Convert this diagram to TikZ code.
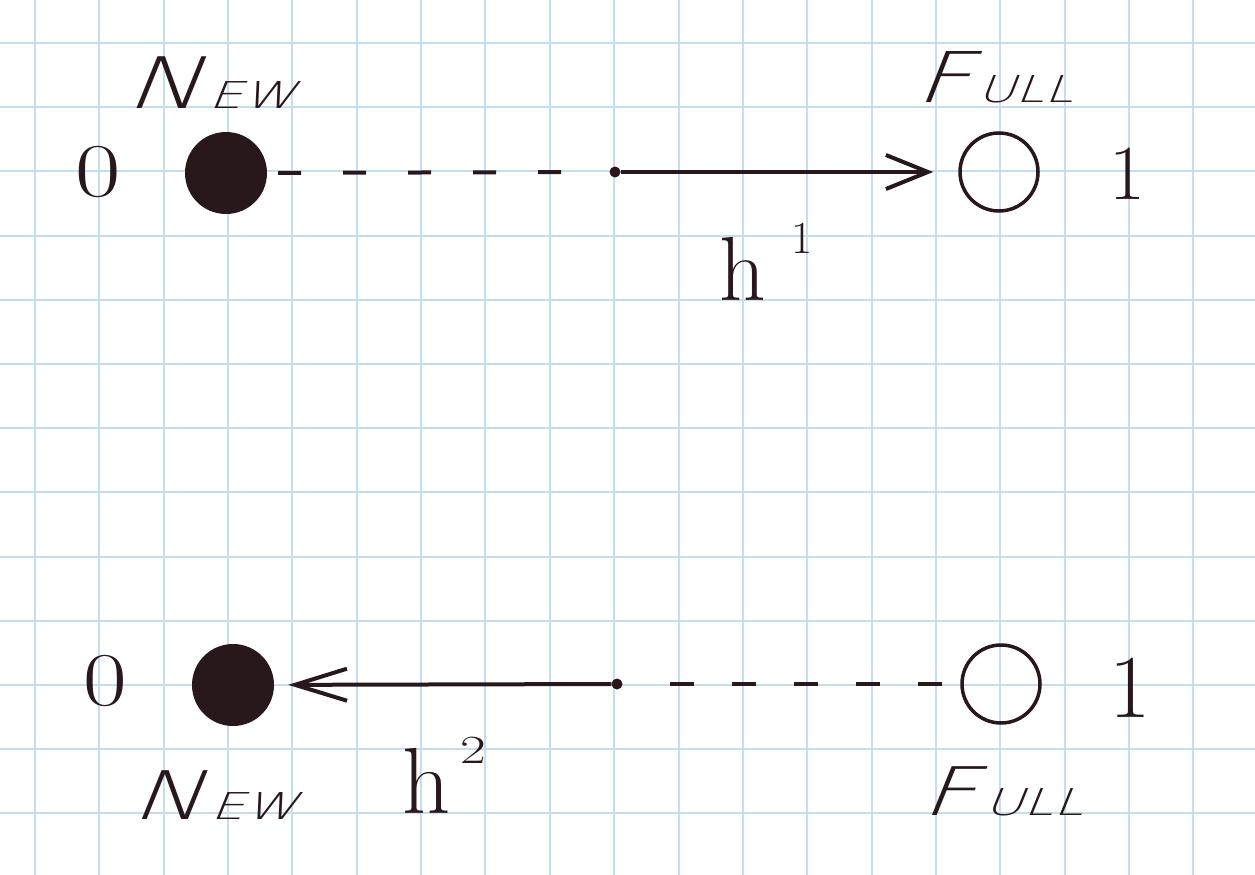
\documentclass[tikz,border=0pt]{standalone}
\usepackage{fontspec}
\newfontfamily\handfont{DejaVu Sans ExtraLight}[FakeSlant=0.28]
\usetikzlibrary{arrows.meta}
\definecolor{ink}{RGB}{40,24,28}
\definecolor{gridblue}{RGB}{196,222,240}
\tikzset{
  gridline/.style={draw=gridblue, line width=2pt},
  digit/.style={text=ink, inner sep=0pt, anchor=center},
  word/.style={text=ink, inner sep=0pt, anchor=base, font=\handfont},
  hlab/.style={text=ink, inner sep=0pt, anchor=base west},
  bigdot/.style={circle, fill=ink, minimum size=82pt, inner sep=0pt},
  hollow/.style={circle, draw=ink, line width=3.5pt, minimum size=78pt, inner sep=0pt},
  joint/.style={circle, fill=ink, minimum size=11pt, inner sep=0pt},
  solidlink/.style={draw=ink, line width=4pt},
  dashlink/.style={draw=ink, line width=4pt}
}
\begin{document}
\begin{tikzpicture}[x=1pt,y=-1pt]
\useasboundingbox (0,0) rectangle (1255,875);
\fill[white] (0,0) rectangle (1255,875);
\foreach \k in {0,...,18} \draw[gridline] ({35+64.35*\k},0) -- ({35+64.35*\k},875);
\foreach \k in {0,...,12} \draw[gridline] (0,{43+64.2*\k}) -- (1255,{43+64.2*\k});

% top row
\node[digit] (zeroA) at (98,172) {\fontsize{76}{76}\selectfont\scalebox{1.3}[1]{0}};
\node[bigdot] (newA) at (226,173) {};
\node[joint] (dotA) at (615,172) {};
\node[hollow] (fullA) at (999,172) {};
\node[digit] (oneA) at (1127,174) {\fontsize{78}{78}\selectfont 1};
\node[word] (newLabA) at (210,108) {\scalebox{1.45}[1]{\fontsize{71}{71}\selectfont N\hspace{5pt}\fontsize{37}{37}\selectfont EW}};
\node[word] (fullLabA) at (994,102) {\scalebox{1.4}[1]{\fontsize{70}{70}\selectfont F\hspace{5pt}\fontsize{37}{37}\selectfont ULL}};
\node[hlab] (hA) at (719,300) {\fontsize{91}{91}\selectfont h\hspace{26pt}\raisebox{47pt}{\fontsize{46}{46}\selectfont 1}};

\draw[dashlink, dash pattern=on 23pt off 42pt, shorten <=11pt, shorten >=8pt] (newA) -- (dotA);
\draw[solidlink, -{Straight Barb[length=42pt,width=34pt]}, shorten >=25pt] (dotA) -- (fullA);

% bottom row
\node[digit] (zeroB) at (105,681) {\fontsize{76}{76}\selectfont\scalebox{1.25}[1]{0}};
\node[bigdot] (newB) at (233,685) {};
\node[joint] (dotB) at (617,684) {};
\node[hollow] (fullB) at (1001,684) {};
\node[digit] (oneB) at (1130,688) {\fontsize{90}{90}\selectfont 1};
\node[word] (newLabB) at (214,819) {\scalebox{1.45}[1]{\fontsize{67}{67}\selectfont N\hspace{5pt}\fontsize{37}{37}\selectfont EW}};
\node[word] (fullLabB) at (1002,815) {\scalebox{1.45}[1]{\fontsize{67}{67}\selectfont F\hspace{5pt}\fontsize{37}{37}\selectfont ULL}};
\node[hlab] (hB) at (402,813) {\fontsize{94}{94}\selectfont h\hspace{10pt}\raisebox{50pt}{\fontsize{40}{40}\selectfont\scalebox{1.4}[1]{2}}};

\draw[dashlink, dash pattern=on 24pt off 38pt, shorten <=18pt, shorten >=14pt] (fullB) -- (dotB);
\draw[solidlink, -{Straight Barb[length=52pt,width=32pt]}, shorten >=14pt] (dotB) -- (newB);
\end{tikzpicture}
\end{document}
